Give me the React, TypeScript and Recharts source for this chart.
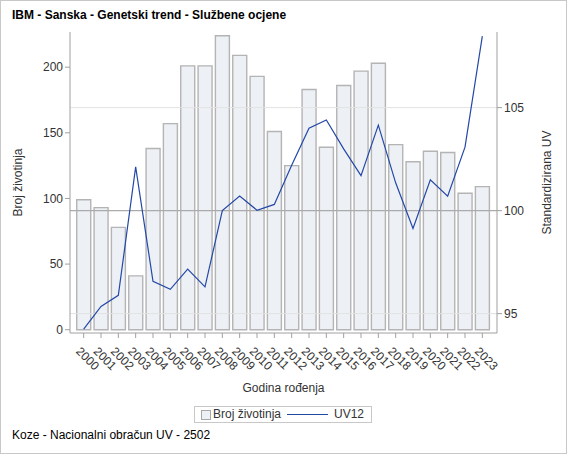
import React from 'react'
import {ComposedChart, Bar, Line, XAxis, YAxis, ReferenceLine} from 'recharts';

const years = ['2000','2001','2002','2003','2004','2005','2006','2007','2008','2009','2010','2011',
  '2012','2013','2014','2015','2016','2017','2018','2019','2020','2021','2022','2023'];
const brojZivotinja = [99, 93, 78, 41, 138, 157, 201, 201, 224, 209, 193, 151,
  125, 183, 139, 186, 197, 203, 141, 128, 136, 135, 104, 109];
const uv12 = [94.25, 95.35, 95.89, 102.12, 96.57, 96.18, 97.16, 96.3, 100.0, 100.71, 100.02, 100.3,
  102.2, 104.0, 104.4, 103.0, 101.7, 104.15, 101.35, 99.13, 101.5, 100.7, 103.08, 108.47];
const leftTicks = [0, 50, 100, 150, 200];
const rightTicks = [95, 100, 105];

const font = '"Liberation Sans", Arial, sans-serif';
const txt = '#333';

const data = years.map((y, i) => ({year: y, broj: brojZivotinja[i], uv: uv12[i]}));

const YearTick = (props: any) => {
  const {x, y, payload} = props;
  return (
    <g transform={`translate(${x},${y})`}>
      <text x={0} y={0} dx={2.6} dy={14.4} transform="rotate(45)" textAnchor="start"
        fontSize={12} fontFamily={font} fill={txt}>{payload.value}</text>
    </g>
  );
};

const App = () => {
  return (
    <div style={{position: 'absolute', left: 0, top: 0, width: 567, height: 454, background: '#fff', fontFamily: font}}>
      <div style={{position: 'absolute', left: 12, top: 8, fontSize: 12, fontWeight: 'bold', color: '#000'}}>
        IBM - Sanska - Genetski trend - Službene ocjene
      </div>
      <ComposedChart width={567} height={454} data={data}
        margin={{top: 32, right: 0, bottom: 61, left: 0}}>
        <XAxis dataKey="year" interval={0} tick={<YearTick/>} tickSize={5}
          padding={{left: 5, right: 6}}
          axisLine={{stroke: '#a0a0a0'}} tickLine={{stroke: '#a0a0a0'}} height={60}
          label={{value: 'Godina rođenja', position: 'insideBottom', offset: 1, fontSize: 12, fontFamily: font, fill: txt}}/>
        <XAxis xAxisId="top" orientation="top" dataKey="year" tick={false} tickLine={false}
          height={0} axisLine={{stroke: '#a0a0a0'}}/>
        <YAxis yAxisId="left" width={70} domain={[-2.5, 226.8]} ticks={leftTicks}
          allowDataOverflow tickSize={5} tickMargin={2}
          axisLine={{stroke: '#a0a0a0'}} tickLine={{stroke: '#a0a0a0'}}
          tick={{fontSize: 12, fontFamily: font, fill: txt}}
          label={{value: 'Broj životinja', angle: -90, position: 'center', dx: -17, fontSize: 12, fontFamily: font, fill: txt}}/>
        <YAxis yAxisId="right" orientation="right" width={70} domain={[94.06, 108.67]} ticks={rightTicks}
          allowDataOverflow tickSize={5} tickMargin={2}
          axisLine={{stroke: '#a0a0a0'}} tickLine={{stroke: '#a0a0a0'}}
          tick={{fontSize: 12, fontFamily: font, fill: txt}}
          label={{value: 'Standardizirana UV', angle: -90, position: 'center', dx: 15, fontSize: 12, fontFamily: font, fill: txt}}/>
        <Bar yAxisId="left" dataKey="broj" name="Broj životinja" fill="#edf0f5" stroke="#b4b4b4"
          strokeWidth={1.4} barCategoryGap={1} isAnimationActive={false}/>
        <ReferenceLine yAxisId="right" y={rightTicks[0]} stroke="#e2e2e2"/>
        <ReferenceLine yAxisId="right" y={rightTicks[2]} stroke="#e2e2e2"/>
        <ReferenceLine yAxisId="right" y={rightTicks[1]} stroke="#ababab" strokeWidth={1.3}/>
        <Line yAxisId="right" dataKey="uv" name="UV12" type="linear" stroke="#2448a8" strokeWidth={1.2}
          dot={false} activeDot={false} isAnimationActive={false}/>
      </ComposedChart>
      <div style={{position: 'absolute', left: 194, top: 406, width: 176, height: 15, border: '1px solid #c8c8c8',
        fontSize: 12, color: txt, boxSizing: 'content-box'}}>
        <span style={{position: 'absolute', left: 6, top: 3, width: 8, height: 8, border: '1px solid #a8a8a8', background: '#edf0f5'}}/>
        <span style={{position: 'absolute', left: 18, top: 0, lineHeight: '15px'}}>Broj životinja</span>
        <span style={{position: 'absolute', left: 92, top: 7, width: 41, height: 0, borderTop: '1.2px solid #2448a8'}}/>
        <span style={{position: 'absolute', left: 139, top: 0, lineHeight: '15px'}}>UV12</span>
      </div>
      <div style={{position: 'absolute', left: 12, top: 428, fontSize: 12, color: '#000'}}>
        Koze - Nacionalni obračun UV - 2502
      </div>
      <div style={{position: 'absolute', left: 0, top: 0, width: 567, height: 454, boxSizing: 'border-box',
        border: '1px solid #c8c8c8', pointerEvents: 'none'}}/>
    </div>
  );
};

export default App;
